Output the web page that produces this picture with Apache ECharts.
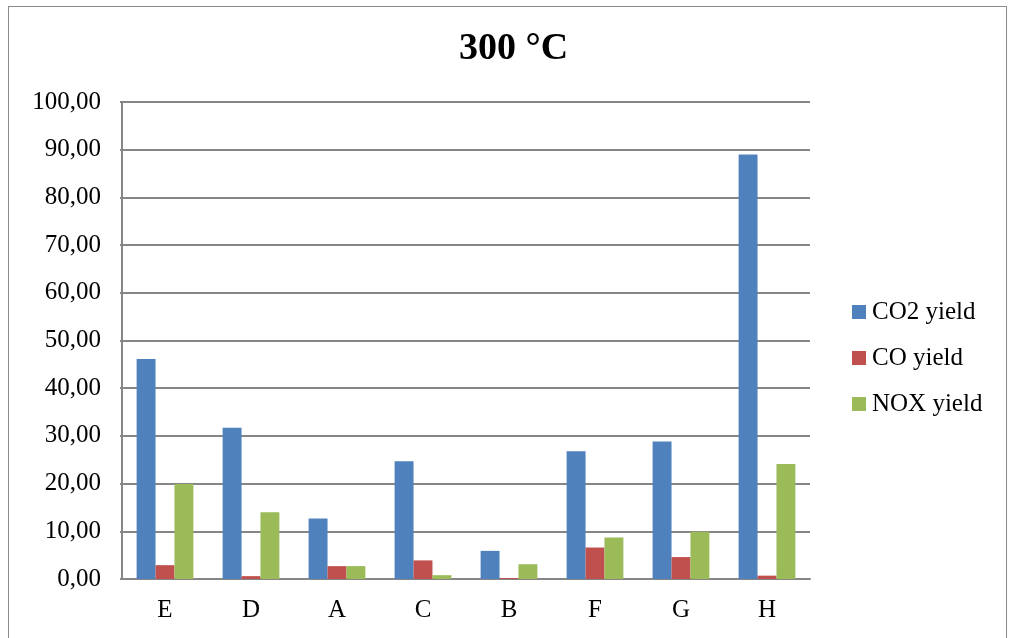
<!DOCTYPE html>
<html><head><meta charset="utf-8">
<script src="https://cdn.jsdelivr.net/npm/echarts@6/dist/echarts.min.js"></script>
<style>
html,body{margin:0;padding:0;background:#fff;}
#frame{position:absolute;left:8px;top:6px;width:999px;height:640px;border:1px solid #8a8a8a;box-sizing:border-box;}
#c{position:absolute;left:0;top:0;width:1011px;height:638px;}
</style></head>
<body><div id="frame"></div><div id="c"></div>
<script>
const categories = ['E','D','A','C','B','F','G','H'];
const co2Yield = [46.1, 31.7, 12.7, 24.7, 5.9, 26.8, 28.8, 89.0];
const coYield  = [2.9, 0.6, 2.7, 3.9, 0.2, 6.6, 4.6, 0.7];
const noxYield = [19.9, 14.0, 2.7, 0.8, 3.1, 8.7, 9.9, 24.1];
const seriesNames = ['CO2 yield','CO yield','NOX yield'];

const chart = echarts.init(document.getElementById('c'));
const font = 'Liberation Serif';
chart.setOption({
  animation:false,
  title:{text:'300 °C',left:459,top:30,padding:0,textStyle:{fontFamily:font,fontSize:38,fontWeight:'bold',color:'#000'}},
  grid:{left:122,right:201,top:102,bottom:59},
  legend:{orient:'vertical',left:852,top:299,itemWidth:14,itemHeight:14,itemGap:20,icon:'rect',padding:0,
    textStyle:{fontFamily:font,fontSize:25,lineHeight:26,color:'#000',padding:[0,0,0,1]},data:seriesNames},
  xAxis:{type:'category',data:categories,
    axisLine:{lineStyle:{color:'#868686',width:2}},
    axisTick:{show:false},
    axisLabel:{fontFamily:font,fontSize:25,color:'#000',margin:19}},
  yAxis:{type:'value',min:0,max:100,interval:10,
    axisLine:{show:true,lineStyle:{color:'#868686',width:2}},
    axisTick:{show:true,length:2,lineStyle:{color:'#868686',width:2}},
    splitLine:{lineStyle:{color:'#868686',width:2}},
    axisLabel:{fontFamily:font,fontSize:25,color:'#000',margin:21,formatter:v=>v.toFixed(2).replace('.',',')}},
  series:[
    {name:seriesNames[0],type:'bar',data:co2Yield,barGap:'0%',barCategoryGap:'34%',itemStyle:{color:'#4F81BD'}},
    {name:seriesNames[1],type:'bar',data:coYield,barGap:'0%',barCategoryGap:'34%',itemStyle:{color:'#C0504D'}},
    {name:seriesNames[2],type:'bar',data:noxYield,barGap:'0%',barCategoryGap:'34%',itemStyle:{color:'#9BBB59'}}
  ]
});
</script></body></html>
